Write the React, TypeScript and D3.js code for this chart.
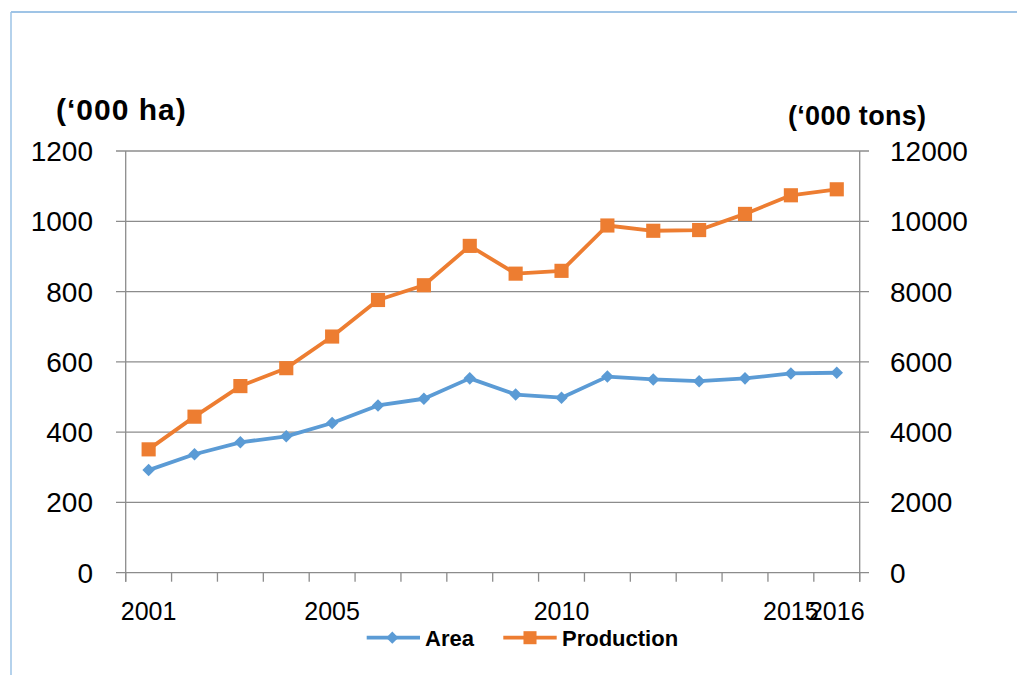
import React from "react";
import * as d3 from "d3";

const years = ["2001","2002","2003","2004","2005","2006","2007","2008","2009","2010","2011","2012","2013","2014","2015","2016"];
const areaValues = [292, 337, 371, 388, 426, 476, 495, 553, 507, 498, 558, 550, 545, 553, 567, 569];
const productionValues = [3510, 4440, 5310, 5820, 6720, 7760, 8180, 9300, 8510, 8590, 9880, 9730, 9750, 10210, 10740, 10910];
const shownYearLabels = ["2001", "2005", "2010", "2015", "2016"];
const leftTicks = [0, 200, 400, 600, 800, 1000, 1200];
const rightTicks = [0, 2000, 4000, 6000, 8000, 10000, 12000];
const seriesNames = ["Area", "Production"];

const W = 1017, H = 675;
const plotL = 125.7, plotR = 859.7, plotT = 151, plotB = 572.7;
const BLUE = "#5B9BD5", ORANGE = "#ED7D31", GRID = "#8c8c8c";
const FONT = "'Liberation Sans', Arial, sans-serif";

export default function App() {
  const x = d3.scaleBand<string>().domain(years).range([plotL, plotR]).padding(0);
  const yL = d3.scaleLinear().domain([0, 1200]).range([plotB, plotT]);
  const yR = d3.scaleLinear().domain([0, 12000]).range([plotB, plotT]);
  const cx = (yr: string) => (x(yr) as number) + x.bandwidth() / 2;

  const areaLine = d3.line<number>().x((_, i) => cx(years[i])).y((d) => yL(d));
  const prodLine = d3.line<number>().x((_, i) => cx(years[i])).y((d) => yR(d));
  const diamond = d3.symbol().type(d3.symbolDiamond2).size(100)() as string;
  const square = d3.symbol().type(d3.symbolSquare).size(200)() as string;
  const diamondSmall = d3.symbol().type(d3.symbolDiamond2).size(95)() as string;
  const squareSmall = d3.symbol().type(d3.symbolSquare).size(170)() as string;

  const boundaries = years.map((y) => x(y) as number).concat([plotR]);

  return (
    <svg width={W} height={H} style={{ position: "absolute", left: 0, top: 0, background: "#fff" }} fontFamily={FONT}>
      {/* frame */}
      <line x1={11} y1={12} x2={W} y2={12} stroke="#7fb0de" strokeWidth={1.5} />
      <line x1={11} y1={12} x2={11} y2={H} stroke="#9dc3e6" strokeWidth={1.5} />

      {/* gridlines */}
      {leftTicks.map((t) => (
        <line key={"g" + t} x1={116} x2={869} y1={yL(t)} y2={yL(t)} stroke={GRID} strokeWidth={1.3} />
      ))}
      {/* axes */}
      <line x1={plotL} x2={plotL} y1={plotT} y2={plotB + 9} stroke={GRID} strokeWidth={1.3} />
      <line x1={plotR} x2={plotR} y1={plotT} y2={plotB + 9} stroke={GRID} strokeWidth={1.3} />
      {boundaries.map((b, i) => (
        <line key={"t" + i} x1={b} x2={b} y1={plotB} y2={plotB + 9} stroke={GRID} strokeWidth={1.3} />
      ))}

      {/* left tick labels */}
      {leftTicks.map((t) => (
        <text key={"l" + t} x={93} y={yL(t) + 10} textAnchor="end" fontSize={28} fill="#000">{t}</text>
      ))}
      {/* right tick labels */}
      {rightTicks.map((t) => (
        <text key={"r" + t} x={890} y={yR(t) + 10} textAnchor="start" fontSize={28} fill="#000">{t}</text>
      ))}
      {/* x labels */}
      {shownYearLabels.map((yr) => (
        <text key={"x" + yr} x={cx(yr)} y={620} textAnchor="middle" fontSize={25} fill="#000">{yr}</text>
      ))}

      {/* axis titles */}
      <text x={56} y={120} fontSize={30} fontWeight="bold" letterSpacing={1} fill="#000">(‘000 ha)</text>
      <text x={788} y={125} fontSize={27} fontWeight="bold" letterSpacing={0.3} fill="#000">(‘000 tons)</text>

      {/* series */}
      <path d={areaLine(areaValues) as string} fill="none" stroke={BLUE} strokeWidth={3.8} strokeLinejoin="round" />
      {areaValues.map((v, i) => (
        <path key={"am" + i} d={diamond} transform={`translate(${cx(years[i])},${yL(v)})`} fill={BLUE} />
      ))}
      <path d={prodLine(productionValues) as string} fill="none" stroke={ORANGE} strokeWidth={3.8} strokeLinejoin="round" />
      {productionValues.map((v, i) => (
        <path key={"pm" + i} d={square} transform={`translate(${cx(years[i])},${yR(v)})`} fill={ORANGE} />
      ))}

      {/* legend */}
      <line x1={366.7} x2={420} y1={637.7} y2={637.7} stroke={BLUE} strokeWidth={3.8} />
      <path d={diamondSmall} transform="translate(392.3,637.7)" fill={BLUE} />
      <text x={425} y={646} fontSize={22} fontWeight="bold" fill="#000">{seriesNames[0]}</text>
      <line x1={503.3} x2={556.7} y1={637.7} y2={637.7} stroke={ORANGE} strokeWidth={3.8} />
      <path d={squareSmall} transform="translate(530,637.7)" fill={ORANGE} />
      <text x={562} y={646} fontSize={22} fontWeight="bold" fill="#000">{seriesNames[1]}</text>
    </svg>
  );
}
